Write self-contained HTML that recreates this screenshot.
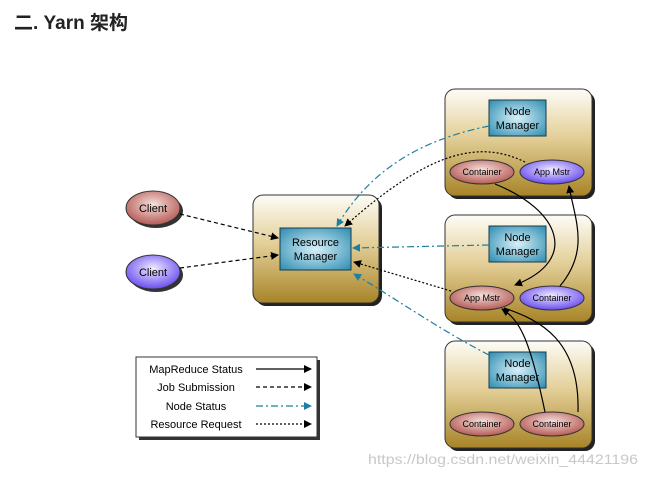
<!DOCTYPE html>
<html><head><meta charset="utf-8"><style>
body{margin:0;background:#fff;width:648px;height:478px;overflow:hidden}
svg{font-family:"Liberation Sans",sans-serif}
</style></head><body>
<svg width="648" height="478" viewBox="0 0 648 478">
<defs>
<linearGradient id="bx" x1="0" y1="0" x2="0" y2="1"><stop offset="0" stop-color="#fdfcf7"/><stop offset="0.45" stop-color="#e3cf98"/><stop offset="1" stop-color="#a88428"/></linearGradient>
<radialGradient id="nm" cx="0.5" cy="0.5" r="0.7"><stop offset="0" stop-color="#d8f0f8"/><stop offset="1" stop-color="#2b8cb0"/></radialGradient>
<radialGradient id="red" cx="0.5" cy="0.4" r="0.6"><stop offset="0" stop-color="#f6e0dc"/><stop offset="1" stop-color="#b55a55"/></radialGradient>
<radialGradient id="pur" cx="0.5" cy="0.4" r="0.6"><stop offset="0" stop-color="#f0ecff"/><stop offset="1" stop-color="#6a4cf0"/></radialGradient>
<marker id="ah" markerWidth="8" markerHeight="8" refX="7" refY="4" orient="auto" markerUnits="userSpaceOnUse"><path d="M0,0 L8,4 L0,8 z" fill="#000"/></marker>
<marker id="at" markerWidth="8" markerHeight="8" refX="7" refY="4" orient="auto" markerUnits="userSpaceOnUse"><path d="M0,0 L8,4 L0,8 z" fill="#1f7fa0"/></marker>
</defs>
<text x="14" y="29" font-family="'Liberation Sans','Noto Sans CJK SC',sans-serif" font-size="19" font-weight="bold" fill="#222">二. Yarn 架构</text>

<g>
<rect x="256" y="198" width="126" height="108" rx="10" fill="#222"/>
<rect x="253" y="195" width="126" height="108" rx="10" fill="url(#bx)" stroke="#333"/>
<rect x="448" y="92" width="147" height="107" rx="10" fill="#222"/>
<rect x="445" y="89" width="147" height="107" rx="10" fill="url(#bx)" stroke="#333"/>
<rect x="448" y="218" width="147" height="107" rx="10" fill="#222"/>
<rect x="445" y="215" width="147" height="107" rx="10" fill="url(#bx)" stroke="#333"/>
<rect x="448" y="344" width="147" height="107" rx="10" fill="#222"/>
<rect x="445" y="341" width="147" height="107" rx="10" fill="url(#bx)" stroke="#333"/>
</g>
<g font-size="11" text-anchor="middle" fill="#000">
<rect x="280" y="228" width="71" height="42" fill="url(#nm)" stroke="#1a3a4a"/>
<text x="315.5" y="246">Resource</text><text x="315.5" y="260">Manager</text>
<rect x="489" y="100" width="57" height="36" fill="url(#nm)" stroke="#1a3a4a"/>
<text x="517.5" y="115">Node</text><text x="517.5" y="129">Manager</text>
<rect x="489" y="226" width="57" height="36" fill="url(#nm)" stroke="#1a3a4a"/>
<text x="517.5" y="241">Node</text><text x="517.5" y="255">Manager</text>
<rect x="489" y="352" width="57" height="36" fill="url(#nm)" stroke="#1a3a4a"/>
<text x="517.5" y="367">Node</text><text x="517.5" y="381">Manager</text>
</g>
<g font-size="9" text-anchor="middle" stroke="#333">
<ellipse cx="482" cy="172" rx="32" ry="12" fill="url(#red)"/>
<ellipse cx="552" cy="172" rx="32" ry="12" fill="url(#pur)"/>
<ellipse cx="482" cy="298" rx="32" ry="12" fill="url(#red)"/>
<ellipse cx="552" cy="298" rx="32" ry="12" fill="url(#pur)"/>
<ellipse cx="482" cy="424" rx="32" ry="12" fill="url(#red)"/>
<ellipse cx="552" cy="424" rx="32" ry="12" fill="url(#red)"/>
<ellipse cx="156" cy="211" rx="27" ry="17" fill="#333" stroke="none"/>
<ellipse cx="153" cy="208" rx="27" ry="17" fill="url(#red)"/>
<ellipse cx="156" cy="275" rx="27" ry="17" fill="#333" stroke="none"/>
<ellipse cx="153" cy="272" rx="27" ry="17" fill="url(#pur)"/>
<g stroke="none" fill="#000">
<text x="482" y="175">Container</text><text x="552" y="175">App Mstr</text>
<text x="482" y="301">App Mstr</text><text x="552" y="301">Container</text>
<text x="482" y="427">Container</text><text x="552" y="427">Container</text>
<text x="153" y="212" font-size="11">Client</text><text x="153" y="276" font-size="11">Client</text>
</g>
</g>

<g fill="none" stroke-width="1.2">
<path d="M180,214 L278,238" stroke="#000" stroke-dasharray="4,3" marker-end="url(#ah)"/>
<path d="M180,268 L278,255" stroke="#000" stroke-dasharray="4,3" marker-end="url(#ah)"/>
<path d="M489,126 C420,140 370,170 337,226" stroke="#1f7fa0" stroke-dasharray="7,3,2,3" marker-end="url(#at)"/>
<path d="M525,162 C480,140 430,150 345,226" stroke="#000" stroke-dasharray="2,2" marker-end="url(#ah)"/>
<path d="M489,245 L353,248" stroke="#1f7fa0" stroke-dasharray="7,3,2,3" marker-end="url(#at)"/>
<path d="M451,291 L354,262" stroke="#000" stroke-dasharray="2,2" marker-end="url(#ah)"/>
<path d="M489,355 C440,330 390,295 354,274" stroke="#1f7fa0" stroke-dasharray="7,3,2,3" marker-end="url(#at)"/>
<path d="M495,184 C560,210 580,260 515,285" stroke="#000" marker-end="url(#ah)"/>
<path d="M560,286 C590,250 575,220 569,186" stroke="#000" marker-end="url(#ah)"/>
<path d="M545,412 C530,340 520,320 502,309" stroke="#000" marker-end="url(#ah)"/>
<path d="M578,412 C580,340 540,320 504,308" stroke="#000"/>
</g>

<rect x="139" y="360" width="181" height="80" fill="#333"/>
<rect x="136" y="357" width="181" height="80" fill="#fff" stroke="#333"/>
<g font-size="11" text-anchor="middle" fill="#000">
<text x="196" y="373">MapReduce Status</text>
<text x="196" y="391">Job Submission</text>
<text x="196" y="410">Node Status</text>
<text x="196" y="428">Resource Request</text>
</g>
<g fill="none" stroke-width="1.2">
<path d="M256,369 L311,369" stroke="#000" marker-end="url(#ah)"/>
<path d="M256,387 L311,387" stroke="#000" stroke-dasharray="4,3" marker-end="url(#ah)"/>
<path d="M256,406 L311,406" stroke="#1f7fa0" stroke-dasharray="7,3,2,3" marker-end="url(#at)"/>
<path d="M256,424 L311,424" stroke="#000" stroke-dasharray="2,2" marker-end="url(#ah)"/>
</g>
<text x="368" y="464" font-size="14" fill="#c8c8c8" textLength="270" lengthAdjust="spacingAndGlyphs">https://blog.csdn.net/weixin_44421196</text>
</svg>
</body></html>
